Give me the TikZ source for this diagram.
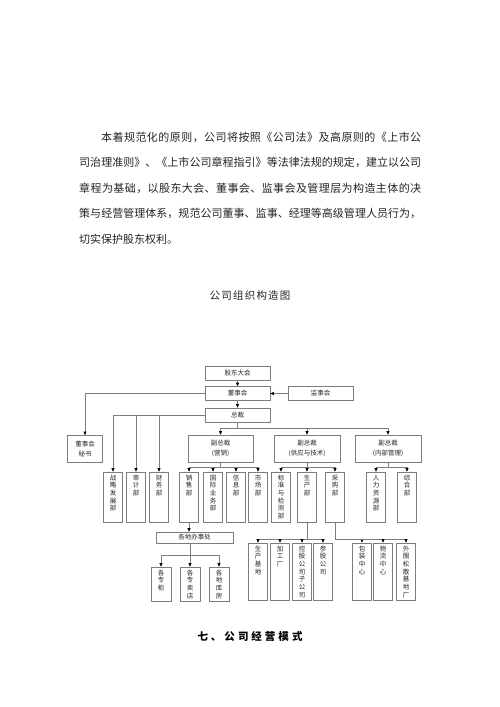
\documentclass[tikz,border=0pt]{standalone}
\usepackage{fontspec}
\setmainfont{Noto Sans CJK SC}
\usetikzlibrary{arrows.meta}

\definecolor{linegray}{RGB}{125,125,125}
\definecolor{inkgray}{RGB}{35,35,35}

% spread the characters of one line over a given width
\newcommand\spreadto[2]{\hbox to #1{\spreadaux#2\relax\relax}}
\def\spreadaux#1#2{#1\ifx\relax#2\else\hfil\expandafter\spreadaux\expandafter#2\fi}

\tikzset{
  unitbox/.style={draw=linegray, line width=0.6pt, text=inkgray, inner sep=0pt,
                  font=\fontsize{6.5}{7.7}\selectfont},
  rowbox/.style={unitbox, minimum width=65pt, minimum height=14pt},
  vpbox/.style={unitbox, minimum width=66pt, minimum height=27pt, align=center,
                font=\fontsize{6.5}{10.5}\selectfont},
  colbox/.style={unitbox, text width=19pt, align=center, text height=6pt, inner ysep=2pt},
  midcol/.style={colbox, text depth=40pt},
  lowcol/.style={colbox, text depth=47pt},
  shopcol/.style={colbox, text width=20pt, text depth=24pt},
  link/.style={draw=linegray, line width=0.6pt},
  arr/.style={link, -{Triangle[length=3.5pt, width=3pt, color=black]}},
  paraline/.style={anchor=west, inner sep=0pt, text=inkgray, font=\fontsize{11}{11}\selectfont}
}

\begin{document}
\begin{tikzpicture}[x=1pt, y=-1pt]
  \useasboundingbox (0,0) rectangle (500,707);

  \node[paraline] (line1) at (101,137)   {\spreadto{320pt}{本着规范化的原则，公司将按照《公司法》及高原则的《上市公}};
  \node[paraline] (line2) at (79,162.5)  {\spreadto{342pt}{司治理准则》、《上市公司章程指引》等法律法规的规定，建立以公司}};
  \node[paraline] (line3) at (79,188)    {\spreadto{342pt}{章程为基础，以股东大会、董事会、监事会及管理层为构造主体的决}};
  \node[paraline] (line4) at (79,213.5)  {\spreadto{342pt}{策与经营管理体系，规范公司董事、监事、经理等高级管理人员行为，}};
  \node[paraline] (line5) at (79,239)    {切实保护股东权利。};

  \node[inner sep=0pt, text=inkgray, font=\fontsize{10.5}{10.5}\selectfont] (title) at (250,296) {\spreadto{81pt}{公司组织构造图}};

  % top of the chart
  \node[rowbox] (gudong)  at (237.5,373)   {股东大会};
  \node[rowbox] (dongshi) at (237.5,393.5) {董事会};
  \node[rowbox] (jianshi) at (320.5,393.5) {监事会};
  \node[rowbox] (zongcai) at (237.5,415)   {总裁};
  \node[vpbox, minimum width=35pt] (mishu) at (85,449) {董事会\\秘书};

  \node[vpbox, minimum width=65pt] (fzyx) at (220.5,448.5) {副总裁\\(营销)};
  \node[vpbox] (fzgy) at (307,448.5) {副总裁\\(供应与技术)};
  \node[vpbox] (fznb) at (388,448.5) {副总裁\\(内部管理)};

  % departments
  \node[midcol] (zhanlue)   at (113,497) {战\\略\\发\\展\\部};
  \node[midcol] (shenji)    at (136,497) {审\\计\\部};
  \node[midcol] (caiwu)     at (159,497) {财\\务\\部};
  \node[midcol] (xiaoshou)  at (189,497) {销\\售\\部};
  \node[midcol] (guoji)     at (213,497) {国\\际\\业\\务\\部};
  \node[midcol] (xinxi)     at (236,497) {信\\息\\部};
  \node[midcol] (shichang)  at (258,497) {市\\场\\部};
  \node[midcol] (biaozhun)  at (281,497) {标\\准\\与\\检\\测\\部};
  \node[midcol] (shengchan) at (307,497) {生\\产\\部};
  \node[midcol] (caigou)    at (335,497) {采\\购\\部};
  \node[midcol] (renli)     at (376,497) {人\\力\\资\\源\\部};
  \node[midcol] (zonghe)    at (407,497) {综\\合\\部};

  \node[rowbox, minimum width=77pt, minimum height=11pt] (banshi) at (194.5,537.5) {各地办事处};
  \node[shopcol] (zhuangui) at (161,584) {各\\专\\柜};
  \node[shopcol] (zhuanmai) at (190,584) {各\\专\\卖\\店};
  \node[shopcol] (kufang)   at (219,584) {各\\地\\库\\房};

  \node[lowcol] (jidi)      at (258,571.5) {生\\产\\基\\地};
  \node[lowcol] (jiagong)   at (280,571.5) {加\\工\\厂};
  \node[lowcol] (konggu)    at (302,571.5) {控\\股\\公\\司\\子\\公\\司};
  \node[lowcol] (cangu)     at (323,571.5) {参\\股\\公\\司};
  \node[lowcol] (baozhuang) at (362,571.5) {包\\装\\中\\心};
  \node[lowcol] (wuliu)     at (383,571.5) {物\\流\\中\\心};
  \node[lowcol] (waiwei)    at (406,571.5) {外\\围\\松\\散\\基\\地\\厂};

  % connectors
  \draw[arr] (gudong) -- (dongshi);
  \draw[arr] (dongshi) -- (zongcai);
  \draw[arr] (jianshi) -- (dongshi);
  \draw[arr] (dongshi.west) -| (mishu.north);
  \draw[arr] (zongcai.west) -| (zhanlue.north);
  \draw[arr] (zongcai.west -| shenji.north) -- (shenji.north);
  \draw[arr] (zongcai.west -| caiwu.north) -- (caiwu.north);

  \coordinate (zcjoin) at (237.5,428);
  \draw[link] (zongcai.south) -- (zcjoin);
  \draw[arr] (zcjoin) -| (fzyx.north);
  \draw[arr] (zcjoin) -| (fznb.north);
  \draw[arr] (zcjoin -| fzgy.north) -- (fzgy.north);

  \coordinate (yxjoin) at (220.5,467);
  \draw[link] (fzyx.south) -- (yxjoin);
  \draw[arr] (yxjoin) -| (xiaoshou.north);
  \draw[arr] (yxjoin) -| (shichang.north);
  \draw[arr] (yxjoin -| guoji.north) -- (guoji.north);
  \draw[arr] (yxjoin -| xinxi.north) -- (xinxi.north);

  \coordinate (gyjoin) at (307,467);
  \draw[link] (fzgy.south) -- (gyjoin);
  \draw[arr] (gyjoin) -| (biaozhun.north);
  \draw[arr] (gyjoin) -| (caigou.north);
  \draw[arr] (gyjoin) -- (shengchan.north);

  \coordinate (nbjoin) at (388,467);
  \draw[link] (fznb.south) -- (nbjoin);
  \draw[arr] (nbjoin) -| (renli.north);
  \draw[arr] (nbjoin) -| (zonghe.north);

  \draw[arr] (xiaoshou.south) -- (xiaoshou.south |- banshi.north);
  \coordinate (bsjoin) at (190,555);
  \draw[link] (banshi.south -| bsjoin) -- (bsjoin);
  \draw[arr] (bsjoin) -| (zhuangui.north);
  \draw[arr] (bsjoin) -| (kufang.north);
  \draw[arr] (bsjoin) -- (zhuanmai.north);

  \coordinate (scjoin) at (307,539);
  \draw[link] (shengchan.south) -- (scjoin);
  \draw[arr] (scjoin) -| (jidi.north);
  \draw[arr] (scjoin) -| (cangu.north);
  \draw[arr] (scjoin -| jiagong.north) -- (jiagong.north);
  \draw[arr] (scjoin -| konggu.north) -- (konggu.north);

  \coordinate (cgjoin) at (335,539);
  \draw[link] (caigou.south) -- (cgjoin);
  \draw[arr] (cgjoin) -| (baozhuang.north);
  \draw[arr] (cgjoin) -| (waiwei.north);
  \draw[arr] (cgjoin -| wuliu.north) -- (wuliu.north);

  \node[inner sep=0pt, font=\fontsize{10.5}{10.5}\selectfont\bfseries] (heading) at (250,636) {\spreadto{105pt}{七、公司经营模式}};
\end{tikzpicture}
\end{document}
